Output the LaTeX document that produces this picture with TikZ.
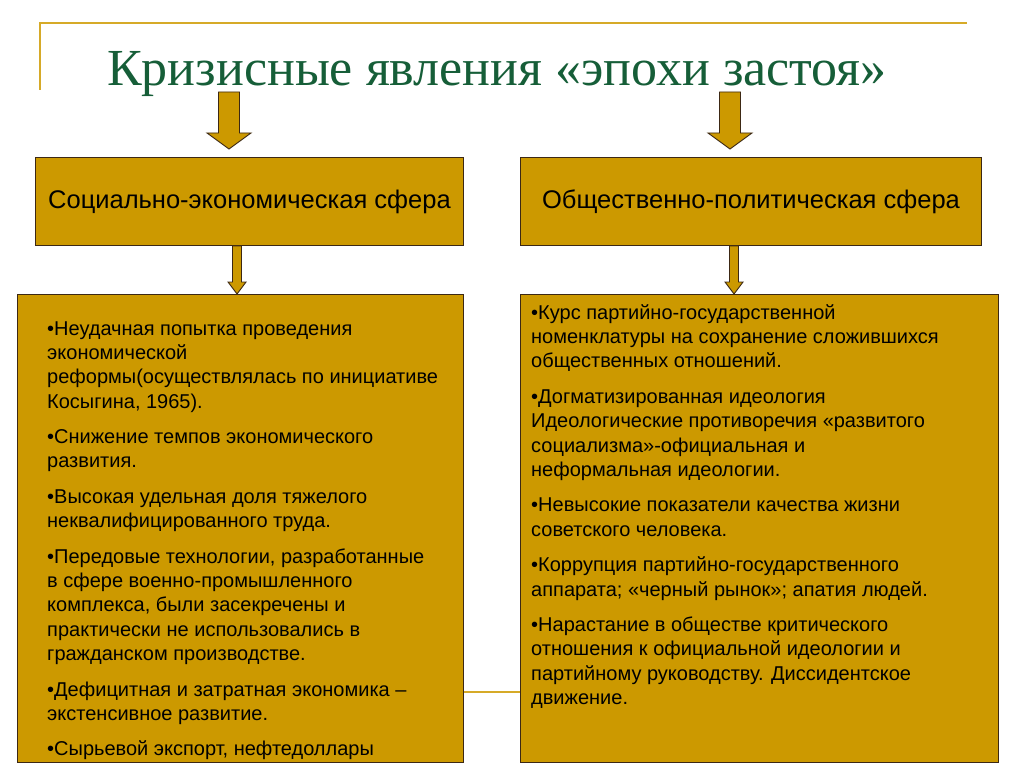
\documentclass[tikz,border=0pt]{standalone}
\usepackage{fontspec}
\setmainfont{Liberation Sans}
\newfontfamily\titlefont{Liberation Serif}
\usetikzlibrary{calc}
\definecolor{gold}{RGB}{204,153,0}
\definecolor{goldline}{RGB}{214,170,40}
\definecolor{titlegreen}{RGB}{22,94,56}
\definecolor{edge}{RGB}{60,40,20}
\tikzset{
  box/.style={draw=edge, line width=0.9pt, fill=gold, anchor=north west, inner sep=0pt},
  headtext/.style={font=\fontsize{25.5}{30}\selectfont, inner sep=0pt},
  listtext/.style={anchor=north west, align=left, inner sep=0pt, font=\fontsize{20}{24.2}\selectfont, text=black},
  barrowstyle/.style={draw=edge, line width=0.9pt, fill=gold, line join=miter},
  deco/.style={draw=goldline, line width=2pt},
  link/.style={draw=goldline, line width=2.2pt}
}
% block arrow from #1 (top) to #2 (tip), shaft half width #3, head half width #4, head length #5
\newcommand\blockarrow[5]{%
  \path[barrowstyle] let \p1=(#1), \p2=(#2) in
    (\x1-#3,\y1) -- (\x1+#3,\y1) -- (\x1+#3,\y2+#5) -- (\x1+#4,\y2+#5) -- (\x1,\y2)
    -- (\x1-#4,\y2+#5) -- (\x1-#3,\y2+#5) -- cycle;}
\begin{document}
\begin{tikzpicture}[x=1pt,y=-1pt]
\useasboundingbox[fill=white] (0,0) rectangle (1024,767);
% decorative corner lines
\coordinate (c0) at (40,90);
\coordinate (c1) at (40,23);
\coordinate (c2) at (967,23);
\draw[deco] (c0) -- (c1) -- (c2);
% title
\node[anchor=base, text=titlegreen, inner sep=0pt, font=\titlefont\fontsize{52}{58}\selectfont] (title) at (497,86)
  {Кризисные явления «эпохи застоя»};
% header boxes
\node[box, minimum width=428pt, minimum height=88pt] (b1) at (35,157) {};
\node[headtext] (t1) at (b1.center) {Социально-экономическая сфера};
\node[box, minimum width=461pt, minimum height=88pt] (b2) at (520,157) {};
\node[headtext] (t2) at (b2.center) {Общественно-политическая сфера};
% content boxes
\node[box, minimum width=446pt, minimum height=468pt] (b3) at (17,294) {};
\node[box, minimum width=478pt, minimum height=468pt] (b4) at (520,294) {};
% link between content boxes
\coordinate (l1) at (b3.east |- 0,692);
\coordinate (l2) at (b4.west |- 0,692);
\draw[link] (l1) -- (l2);
% top arrows
\coordinate (a1s) at (229,92);
\coordinate (a1e) at (229,149);
\coordinate (a2s) at (730,92);
\coordinate (a2e) at (730,149);
\blockarrow{a1s}{a1e}{10.5pt}{22pt}{16pt}
\blockarrow{a2s}{a2e}{10.5pt}{22pt}{16pt}
% small arrows
\coordinate (a3s) at (b1.south -| 237,0);
\coordinate (a3e) at (b3.north -| 237,0);
\coordinate (a4s) at (b2.south -| 734,0);
\coordinate (a4e) at (b4.north -| 734,0);
\blockarrow{a3s}{a3e}{4.5pt}{9pt}{12pt}
\blockarrow{a4s}{a4e}{4.5pt}{9pt}{12pt}
% left text
\node[listtext] (lt) at (47,321.5) {%
•Неудачная попытка проведения\\
экономической\\
реформы(осуществлялась по инициативе\\
Косыгина, 1965).\\[11.5pt]
•Снижение темпов экономического\\
развития.\\[11.5pt]
•Высокая удельная доля тяжелого\\
неквалифицированного труда.\\[11.5pt]
•Передовые технологии, разработанные\\
в сфере военно-промышленного\\
комплекса, были засекречены и\\
практически не использовались в\\
гражданском производстве.\\[11.5pt]
•Дефицитная и затратная экономика –\\
экстенсивное развитие.\\[11.5pt]
•Сырьевой экспорт, нефтедоллары};
% right text
\node[listtext] (rt) at (531,304.5) {%
•Курс партийно-государственной\\
номенклатуры на сохранение сложившихся\\
общественных отношений.\\[11.5pt]
•Догматизированная идеология\\
Идеологические противоречия «развитого\\
социализма»-официальная и\\
неформальная идеологии.\\[11.5pt]
•Невысокие показатели качества жизни\\
советского человека.\\[11.5pt]
•Коррупция партийно-государственного\\
аппарата; «черный рынок»; апатия людей.\\[11.5pt]
•Нарастание в обществе критического\\
отношения к официальной идеологии и\\
партийному руководству. Диссидентское\\
движение.};
\end{tikzpicture}
\end{document}
